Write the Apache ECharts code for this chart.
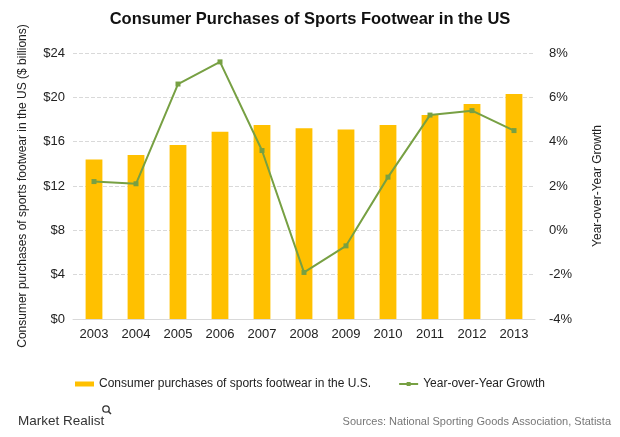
<!DOCTYPE html>
<html><head><meta charset="utf-8">
<script src="https://cdn.jsdelivr.net/npm/echarts@6/dist/echarts.min.js"></script>
<style>html,body{margin:0;padding:0;background:#fff;}#c{width:620px;height:437px;}</style>
</head><body><div id="c"></div>
<script>
const years = ['2003','2004','2005','2006','2007','2008','2009','2010','2011','2012','2013'];
const purchases = [14.4, 14.8, 15.7, 16.9, 17.5, 17.2, 17.1, 17.5, 18.4, 19.4, 20.3];
const growth = [2.2, 2.1, 6.6, 7.6, 3.6, -1.9, -0.7, 2.4, 5.2, 5.4, 4.5];
const leftTicks = [0, 4, 8, 12, 16, 20, 24];
const rightTicks = [-4, -2, 0, 2, 4, 6, 8];

const chart = echarts.init(document.getElementById('c'));
const font = 'Liberation Sans, Arial, sans-serif';
chart.setOption({
  animation: false,
  textStyle: {fontFamily: font},
  title: [{
    text: 'Consumer Purchases of Sports Footwear in the US',
    left: 'center', top: 6,
    textStyle: {fontSize: 16.5, fontWeight: 'bold', color: '#111', fontFamily: font}
  },{
    text: 'Market Realist',
    left: 13, top: 409,
    textStyle: {fontSize: 13.5, fontWeight: 'normal', color: '#333', fontFamily: font}
  },{
    text: 'Sources: National Sporting Goods Association, Statista',
    right: 4, top: 411,
    textStyle: {fontSize: 11, fontWeight: 'normal', color: '#777', fontFamily: font}
  }],
  graphic: [
    {type: 'circle', shape: {cx: 106, cy: 409, r: 3.2}, style: {fill: 'none', stroke: '#333', lineWidth: 1.3}},
    {type: 'line', shape: {x1: 108.3, y1: 411.3, x2: 111, y2: 414}, style: {stroke: '#333', lineWidth: 1.5}}
  ],
  legend: {
    bottom: 42, left: 'center', itemGap: 27,
    itemWidth: 19, itemHeight: 5,
    textStyle: {fontSize: 12, color: '#222', fontFamily: font},
    data: [
      {name: 'Consumer purchases of sports footwear in the U.S.', icon: 'rect'},
      {name: 'Year-over-Year Growth'}
    ]
  },
  grid: {left: 73, right: 85, top: 53, bottom: 118},
  xAxis: {
    type: 'category', data: years,
    axisTick: {show: false},
    axisLine: {lineStyle: {color: '#d9d9d9'}},
    axisLabel: {fontSize: 13, color: '#222', margin: 9}
  },
  yAxis: [{
    type: 'value', min: 0, max: 24, interval: 4,
    name: 'Consumer purchases of sports footwear in the US ($ billions)',
    nameLocation: 'middle', nameGap: 44, nameRotate: 90,
    nameTextStyle: {fontSize: 12, color: '#222'},
    axisLabel: {fontSize: 13, color: '#222', formatter: v => '$' + v},
    splitLine: {lineStyle: {color: '#d9d9d9', type: 'dashed'}},
    axisLine: {show: false}, axisTick: {show: false}
  },{
    type: 'value', min: -4, max: 8, interval: 2,
    name: 'Year-over-Year Growth',
    nameLocation: 'middle', nameGap: 57, nameRotate: 90,
    nameTextStyle: {fontSize: 12, color: '#222'},
    axisLabel: {fontSize: 13, color: '#222', margin: 14, formatter: v => v + '%'},
    splitLine: {show: false},
    axisLine: {show: false}, axisTick: {show: false}
  }],
  series: [{
    name: 'Consumer purchases of sports footwear in the U.S.',
    type: 'bar', data: purchases, barWidth: '40%',
    itemStyle: {color: '#FFC000'}
  },{
    name: 'Year-over-Year Growth',
    type: 'line', yAxisIndex: 1, data: growth,
    symbol: 'rect', symbolSize: 5,
    lineStyle: {color: '#77A043', width: 2},
    itemStyle: {color: '#77A043'}
  }]
});
</script></body></html>
